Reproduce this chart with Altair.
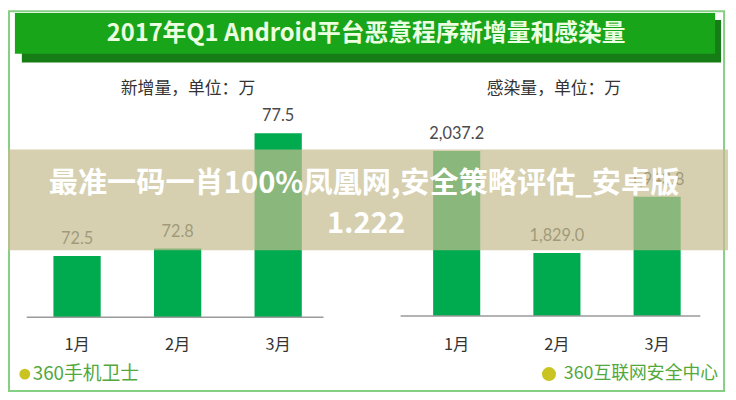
import altair as alt
import pandas as pd

# ---- data ----
months = ["1月", "2月", "3月"]
new_vals = [72.5, 72.8, 77.5]          # 新增量（万）
infect_vals = [2037.2, 1829.0, 1943.8]  # 感染量（万）

title_text = "2017年Q1 Android平台恶意程序新增量和感染量"
left_sub = "新增量，单位：万"
right_sub = "感染量，单位：万"
banner_l1 = "最准一码一肖100%凤凰网,安全策略评估_安卓版"
banner_l2 = "1.222"
left_brand = "360手机卫士"
right_brand = "360互联网安全中心"

left_df = pd.DataFrame({"month": months, "value": new_vals})
right_df = pd.DataFrame({"month": months, "value": infect_vals})
one = pd.DataFrame({"k": [0]})

CJK = "Noto Sans CJK SC"
NUM = "Lato"
BAR = "#00aa4f"

def panel(df, xr, yd, yr, fmt, base_y, axis_x):
    xs = alt.Scale(domain=months, range=xr, paddingInner=0.53, paddingOuter=0.265)
    ys = alt.Scale(domain=yd, range=yr, zero=False, nice=False)
    X = alt.X("month:N", scale=xs, axis=None, sort=months)
    Y = alt.Y("value:Q", scale=ys, axis=None)
    bars = alt.Chart(df).mark_bar(color=BAR).encode(x=X, y=Y, y2=alt.datum(yd[0]))
    labels = alt.Chart(df).mark_text(font=NUM, fontSize=16.5, color="#4a4a4a", dy=-17).encode(
        x=X, y=Y, text=alt.Text("value:Q", format=fmt))
    mlabels = alt.Chart(df).mark_text(font=CJK, fontSize=16.5, color="#333333").encode(
        x=X, y=alt.value(339), text="month:N")
    axis_line = alt.Chart(one).mark_rule(color="#9a9a9a", strokeWidth=1.5).encode(
        x=alt.value(axis_x[0]), x2=alt.value(axis_x[1]), y=alt.value(base_y))
    return alt.layer(bars, labels, mlabels, axis_line)

left = panel(left_df, [19, 324], [70, 80], [310.5, 62.5], ".1f", 310.5, (19, 319))
right = panel(right_df, [403, 707], [1700, 2200], [309.3, 61.9], ",.1f", 309.3, (397, 700))

def rect(x, x2, y, y2, **kw):
    return alt.Chart(one).mark_rect(**kw).encode(
        x=alt.value(x), x2=alt.value(x2), y=alt.value(y), y2=alt.value(y2))

def txt(s, x, y, **kw):
    return alt.Chart(one).mark_text(text=s, **kw).encode(x=alt.value(x), y=alt.value(y))

border = rect(1, 724, 1, 385, fillOpacity=0, stroke="#86d086", strokeWidth=2)
shadow = rect(14, 721, 10, 53, color="#167c16")
tbar = rect(7, 715, 3, 44, color="#19a519")
ttext = txt(title_text, 362, 24, font=CJK, fontSize=24, fontWeight="bold", color="#ecffe0")
sub_l = txt(left_sub, 182, 80, font=CJK, fontSize=17, color="#333333")
sub_r = txt(right_sub, 552, 80, font=CJK, fontSize=17, color="#333333")

logo_l = alt.Chart(one).mark_point(shape="circle", filled=True, size=120, color="#c9c421", opacity=1).encode(
    x=alt.value(17), y=alt.value(368))
brand_l = txt(left_brand, 25, 368, font=CJK, fontSize=19, color="#52a83c", align="left")
logo_r = alt.Chart(one).mark_point(shape="circle", filled=True, size=200, color="#c9c421", opacity=1).encode(
    x=alt.value(547), y=alt.value(368))
brand_r = txt(right_brand, 562, 368, font=CJK, fontSize=18, color="#52a83c", align="left")

banner = rect(0, 728, 141, 242.7, color="#c4bc8e", opacity=0.7)
b1 = txt(banner_l1, 360, 176, font=CJK, fontSize=29.5, fontWeight="bold", color="#ffffff")
b2 = txt(banner_l2, 362, 216, font=CJK, fontSize=29.5, fontWeight="bold", color="#ffffff")

chart = alt.layer(
    border, shadow, tbar, ttext, sub_l, sub_r, left, right,
    logo_l, brand_l, logo_r, brand_r, banner, b1, b2
).resolve_scale(x="independent", y="independent").properties(
    width=728, height=392, padding=0, autosize="none", background="white"
).configure_view(stroke=None)

chart.save("out.html", embed_options={"renderer": "svg", "actions": False})
